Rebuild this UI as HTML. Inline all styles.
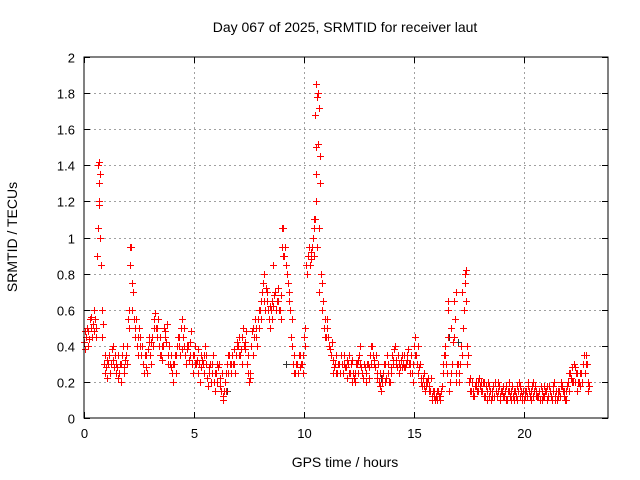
<!DOCTYPE html>
<html><head><meta charset="utf-8"><style>
body{margin:0;background:#fff}
svg{display:block;font-family:"Liberation Sans",sans-serif}
</style></head><body>
<svg id="chart" width="640" height="480" viewBox="0 0 640 480">
<rect x="0" y="0" width="640" height="480" fill="#fff"/>
<text x="345" y="32" font-size="14" text-anchor="middle">Day 067 of 2025, SRMTID for receiver laut</text>
<text x="345" y="467" font-size="14" text-anchor="middle">GPS time / hours</text>
<text transform="translate(17,237) rotate(-90)" font-size="14" text-anchor="middle">SRMTID / TECUs</text>
<g id="grid"></g>
<g id="ticks"></g>
<g id="marks"></g>
<rect x="84" y="57" width="524" height="361" fill="none" stroke="#000" stroke-width="1"/>
</svg>
<script>
const xTicks=[0,5,10,15,20];
const yTicks=[0,0.2,0.4,0.6,0.8,1,1.2,1.4,1.6,1.8,2];
const yTickLabels=["0","0.2","0.4","0.6","0.8","1","1.2","1.4","1.6","1.8","2"];
const tStart=0, tStep=0.1;
const valA=[.42,.45,.48,.5,.52,.55,.9,1.3,.6,.3,
.28,.3,.25,.32,.35,.28,.25,.3,.28,.35,
.55,.85,.6,.45,.4,.5,.35,.3,.28,.38,
.35,.45,.55,.5,.4,.35,.4,.48,.35,.3,
.25,.3,.35,.4,.5,.45,.35,.38,.42,.3,
.35,.3,.25,.28,.3,.4,.22,.25,.3,.2,
.25,.28,.18,.12,.2,.3,.35,.25,.3,.35,
.4,.35,.45,.42,.3,.2,.4,.5,.45,.55,
.6,.7,.8,.65,.55,.6,.62,.7,.65,.6,
.95,.9,.85,.65,.45,.3,.25,.3,.35,.3,
.45,.85,.9,.92,1.0,1.1,.95,.7,.6,.5,
.45,.45,.38,.32,.3,.25,.3,.35,.3,.28,
.3,.25,.2,.25,.3,.35,.28,.22,.25,.3,
.35,.4,.3,.25,.2,.15,.25,.3,.25,.2,
.35,.38,.3,.25,.32,.3,.28,.35,.3,.25,
.4,.35,.25,.2,.22,.15,.2,.18,.12,.12,
.12,.15,.12,.3,.4,.25,.15,.5,.45,.2,
.3,.3,.7,.8,.4,.2,.15,.15,.18,.2,
.18,.15,.2,.15,.12,.1,.18,.2,.15,.12,
.15,.12,.18,.15,.1,.12,.15,.18,.12,.1,
.1,.15,.2,.15,.12,.18,.12,.15,.1,.12,
.15,.12,.15,.18,.12,.1,.15,.2,.12,.15,
.2,.25,.28,.2,.15,.2,.25,.3,.35,.15];
const valB=[.38,.5,.44,.56,.48,.45,1.4,1.0,.45,.25,
.22,.35,.3,.4,.25,.22,.3,.35,.25,.4,
.6,.95,.7,.5,.35,.45,.4,.25,.35,.42,
.42,.4,.58,.45,.35,.32,.5,.42,.3,.35,
.2,.35,.4,.45,.38,.5,.3,.4,.35,.25,
.4,.32,.3,.35,.25,.35,.18,.3,.25,.15,
.2,.3,.15,.1,.25,.25,.3,.35,.38,.4,
.35,.38,.5,.38,.25,.22,.48,.45,.5,.6,
.65,.75,.6,.7,.5,.65,.68,.6,.72,.55,
1.05,.95,.8,.7,.55,.35,.3,.25,.28,.35,
.5,.8,.95,.88,.9,1.5,1.8,1.3,.75,.55,
.55,.4,.35,.25,.35,.3,.25,.3,.35,.22,
.35,.3,.25,.2,.32,.3,.25,.3,.2,.28,
.3,.35,.28,.22,.18,.2,.3,.22,.3,.25,
.32,.4,.28,.3,.35,.28,.3,.38,.25,.3,
.45,.3,.28,.22,.18,.2,.22,.15,.1,.15,
.1,.12,.15,.25,.35,.6,.2,.3,.65,.25,
.2,.4,.5,.75,.3,.15,.2,.12,.2,.15,
.15,.2,.12,.1,.18,.15,.12,.15,.2,.1,
.12,.15,.1,.2,.15,.1,.12,.15,.18,.12,
.15,.12,.15,.1,.2,.15,.12,.1,.15,.18,
.1,.18,.12,.15,.1,.15,.12,.18,.15,.1,
.15,.22,.2,.28,.25,.18,.2,.35,.3,.2];
const valC=[.48,.4,.55,.45,.6,.5,1.2,.85,.52,.35,
.32,.25,.38,.28,.3,.35,.2,.4,.32,.3,
.5,.75,.55,.55,.45,.4,.3,.35,.25,.45,
.3,.5,.5,.55,.45,.4,.45,.52,.4,.28,
.3,.25,.45,.35,.55,.4,.4,.32,.48,.35,
.3,.38,.2,.32,.35,.3,.28,.2,.35,.25,
.3,.22,.25,.15,.15,.35,.3,.3,.25,.42,
.45,.3,.4,.48,.35,.25,.35,.55,.4,.5,
.55,.65,.72,.6,.62,.55,.7,.65,.6,.68,
.9,.85,.75,.6,.4,.25,.3,.35,.3,.25,
.4,.9,.85,.95,1.05,1.2,1.05,.8,.65,.45,
.5,.38,.42,.28,.25,.3,.35,.25,.28,.32,
.25,.32,.22,.3,.25,.4,.22,.28,.3,.22,
.4,.32,.35,.3,.25,.22,.2,.35,.2,.28,
.3,.32,.35,.28,.28,.35,.32,.3,.35,.2,
.35,.4,.3,.18,.25,.18,.15,.22,.15,.1,
.15,.1,.18,.35,.3,.45,.25,.42,.55,.3,
.25,.35,.6,.65,.35,.22,.12,.18,.15,.22,
.2,.12,.18,.2,.15,.12,.2,.12,.18,.15,
.18,.1,.15,.12,.18,.15,.1,.2,.15,.15,
.12,.18,.12,.18,.15,.12,.15,.18,.12,.15,
.18,.15,.1,.2,.15,.12,.18,.15,.1,.18,
.25,.2,.3,.25,.2,.25,.3,.25,.3,.18];
const spikeT=[10.55,10.58,10.7,10.5,10.65,10.55,10.72,0.68,0.72,0.7,16.55,16.9,17.35,17.3,8.6,9.0,2.1,10.75,10.45,0.65];
const spikeV=[1.85,1.78,1.72,1.68,1.52,1.35,1.3,1.42,1.35,1.18,0.65,0.7,0.82,0.75,0.85,1.05,0.95,1.45,1.1,1.05];
const grayT=[10.55,16.6,17.0,6.5,9.2,13.5];
const grayV=[1.85,0.45,0.42,0.15,0.3,0.22];

const X0=84,X1=608,Y0=418,Y1=57,XMAX=23.82,YMAX=2;
const xs=t=>X0+t/XMAX*(X1-X0);
const ys=v=>Y0-v/YMAX*(Y0-Y1);
const NS="http://www.w3.org/2000/svg";
const grid=document.getElementById('grid'),ticks=document.getElementById('ticks'),marks=document.getElementById('marks');
function mk(tag,attrs,parent){const e=document.createElementNS(NS,tag);for(const k in attrs)e.setAttribute(k,attrs[k]);parent.appendChild(e);return e;}
yTicks.forEach((v,i)=>{
  const y=Math.round(ys(v))+0.5;
  if(i>0&&i<yTicks.length-1){const g=mk('line',{x1:X0,x2:X1,y1:y,y2:y,stroke:'#a0a0a0','stroke-dasharray':'2,3'},grid);
  
  }
  const t=mk('line',{x1:X0,x2:X0+6,y1:y,y2:y,stroke:'#000'},ticks);
  
  
  const t2=mk('line',{x1:X1-6,x2:X1,y1:y,y2:y,stroke:'#000'},ticks);
  
  
  const l=mk('text',{x:75,y:y+5,'font-size':13,'text-anchor':'end'},ticks);l.textContent=yTickLabels[i];
  
  
});
xTicks.forEach(v=>{
  const x=Math.round(xs(v))+0.5;
  if(v>0){const g=mk('line',{x1:x,x2:x,y1:Y1,y2:Y0,stroke:'#a0a0a0','stroke-dasharray':'2,3'},grid);
  
  }
  const t=mk('line',{x1:x,x2:x,y1:Y0,y2:Y0-6,stroke:'#000'},ticks);
  
  
  const t2=mk('line',{x1:x,x2:x,y1:Y1,y2:Y1+6,stroke:'#000'},ticks);
  
  
  const l=mk('text',{x:x,y:438,'font-size':13,'text-anchor':'middle'},ticks);l.textContent=String(v);
  
  
});
function plus(t,v,color,name){
  const x=Math.round(xs(t))+0.5,y=Math.round(ys(v))+0.5;
  const p=mk('path',{d:`M${x-3.5} ${y}h7M${x} ${y-3.5}v7`,stroke:color,'stroke-width':1,fill:'none'},marks);
  
  
}
grayT.forEach((t,i)=>plus(t,grayV[i],'#333','gray-point'));
valA.forEach((v,i)=>{const t=tStart+i*tStep;
  plus(t,v,'#ff0000','red-point');
  plus(t+0.033,valB[i],'#ff0000','red-point');
  plus(t+0.066,valC[i],'#ff0000','red-point');});
spikeT.forEach((t,i)=>plus(t,spikeV[i],'#ff0000','red-spike-point'));
</script>
</body></html>
